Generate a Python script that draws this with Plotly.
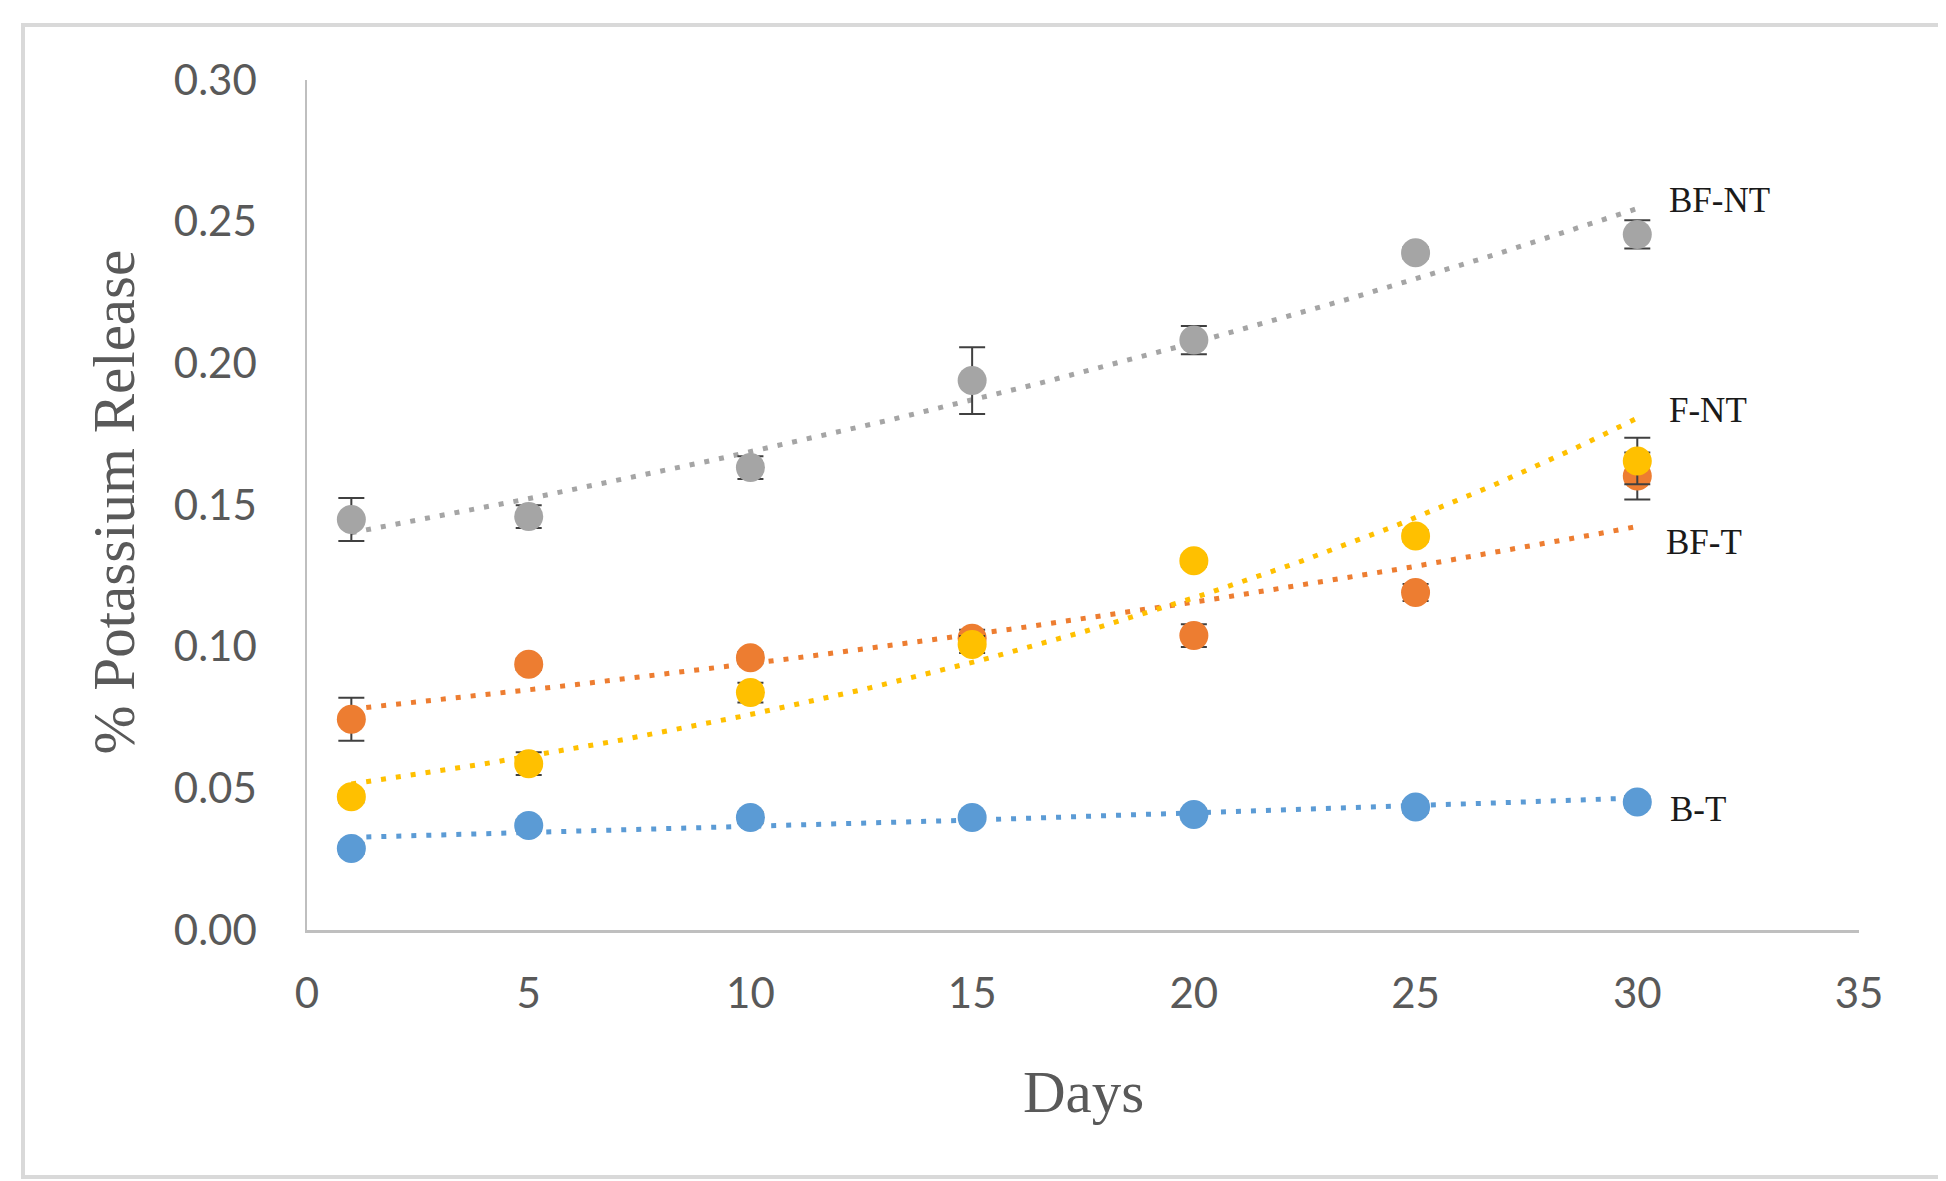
import numpy as np
import plotly.graph_objects as go

days = [1, 5, 10, 15, 20, 25, 30]

series_names = ["B-T", "BF-T", "BF-NT", "F-NT"]
bt = [0.0288, 0.0369, 0.0397, 0.0397, 0.0408, 0.0434, 0.0452]
bt_err = [0.002, 0.002, 0.002, 0.002, 0.002, 0.002, 0.002]
bft = [0.0744, 0.0938, 0.0961, 0.1030, 0.1039, 0.1191, 0.1602]
bft_err = [0.0076, 0.002, 0.002, 0.003, 0.004, 0.003, 0.0083]
bfnt = [0.1449, 0.1459, 0.1632, 0.1939, 0.2082, 0.2390, 0.2455]
bfnt_err = [0.0076, 0.004, 0.004, 0.0118, 0.005, 0.002, 0.005]
fnt = [0.0470, 0.0587, 0.0838, 0.1008, 0.1303, 0.1391, 0.1655]
fnt_err = [0.002, 0.004, 0.0035, 0.003, 0.002, 0.002, 0.0082]

colors = ["#5B9BD5", "#ED7D31", "#A5A5A5", "#FFC000"]
values = [bt, bft, bfnt, fnt]
errors = [bt_err, bft_err, bfnt_err, fnt_err]

y_ticks = [0.00, 0.05, 0.10, 0.15, 0.20, 0.25, 0.30]
x_ticks = [0, 5, 10, 15, 20, 25, 30, 35]

fig = go.Figure()

# exponential trendlines (least squares on ln y, as Excel does)
xd = np.array(days, dtype=float)
xs = np.linspace(min(days), max(days), 120)
for vals, col in zip(values, colors):
    b, lna = np.polyfit(xd, np.log(np.array(vals)), 1)
    fig.add_trace(go.Scatter(
        x=xs, y=np.exp(lna + b * xs), mode="lines",
        line=dict(color=col, width=5, dash="5px,10px"),
        hoverinfo="skip", showlegend=False))

for name, vals, errs, col in zip(series_names, values, errors, colors):
    fig.add_trace(go.Scatter(
        x=days, y=vals, mode="markers", name=name,
        marker=dict(color=col, size=29, line=dict(width=0)),
        error_y=dict(type="data", array=errs, visible=True,
                     color="#404040", thickness=2, width=13),
        showlegend=False))

serif = "Liberation Serif, Times New Roman, serif"
label_pos = {"BF-NT": (30.67, 0.2575), "F-NT": (30.67, 0.1833),
             "BF-T": (30.6, 0.1368), "B-T": (30.7, 0.0425)}
for name, (lx, ly) in label_pos.items():
    fig.add_annotation(x=lx, y=ly, xref="x", yref="y", text=name,
                       showarrow=False, xanchor="left", yanchor="middle",
                       font=dict(family=serif, size=35, color="#1a1a1a"))

fig.add_annotation(x=0.5, y=-0.1906, xref="paper", yref="paper", text="Days",
                   showarrow=False, xanchor="center", yanchor="middle",
                   font=dict(family=serif, size=59, color="#595959"))
fig.add_annotation(x=-0.1244, y=0.504, xref="paper", yref="paper",
                   text="% Potassium Release", textangle=-90,
                   showarrow=False, xanchor="center", yanchor="middle",
                   font=dict(family=serif, size=59, color="#595959"))

# outer chart frame
fig.add_shape(type="rect", xref="paper", yref="paper",
              x0=-0.183, x1=1.0522, y0=-0.2906, y1=1.0647,
              line=dict(color="#d9d9d9", width=4), fillcolor="rgba(0,0,0,0)",
              layer="below")

tickfont = dict(family="Lato, Open Sans, sans-serif", size=42, color="#595959")
fig.update_layout(
    width=1946, height=1181,
    margin=dict(l=299, r=95, t=72, b=259),
    paper_bgcolor="white", plot_bgcolor="white",
    xaxis=dict(range=[0, 35], tickvals=x_ticks, ticktext=[str(t) for t in x_ticks],
               showgrid=False, zeroline=False, showline=True,
               linecolor="#bfbfbf", linewidth=2.5, ticks="",
               tickfont=tickfont, ticklabelstandoff=25),
    yaxis=dict(range=[0, 0.30], tickvals=y_ticks,
               ticktext=[f"{t:.2f}" for t in y_ticks],
               showgrid=False, zeroline=False, showline=True,
               linecolor="#bfbfbf", linewidth=1.5, ticks="",
               tickfont=tickfont, ticklabelstandoff=40),
)

fig.write_html("out.html")
